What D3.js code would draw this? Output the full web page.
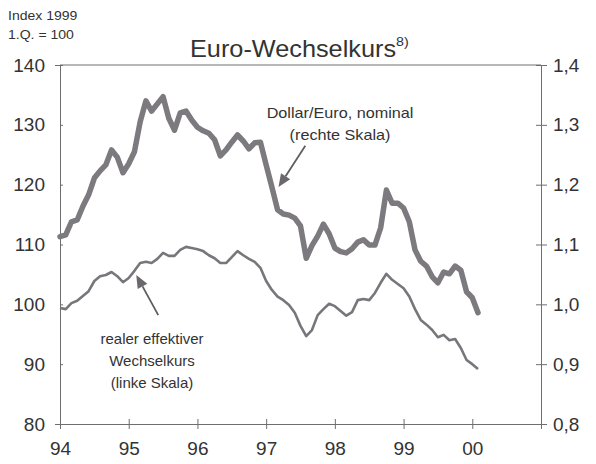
<!DOCTYPE html>
<html>
<head>
<meta charset="utf-8">
<script src="https://cdn.jsdelivr.net/npm/d3@7"></script>
<style>
  body { margin: 0; background: #fff; }
  text { font-family: "Liberation Sans", Arial, sans-serif; fill: #333; }
</style>
</head>
<body>
<div id="chart"></div>
<script>
//setup
var width = 596,
    height = 464;
var margin = {top: 65, right: 55, bottom: 40, left: 60};

// monthly values, Jan 1994 .. Feb 2000
var startYear = 1994;
var dollarEuro = [
    1.113, 1.116, 1.138, 1.141, 1.164, 1.183, 1.211, 1.223, 1.233, 1.258, 1.246, 1.220,
    1.235, 1.255, 1.305, 1.340, 1.323, 1.335, 1.347, 1.311, 1.291, 1.320, 1.323, 1.308,
    1.296, 1.290, 1.286, 1.275, 1.248, 1.258, 1.271, 1.283, 1.273, 1.260, 1.270, 1.271,
    1.233, 1.196, 1.158, 1.151, 1.149, 1.144, 1.131, 1.077, 1.098, 1.114, 1.134, 1.118,
    1.094, 1.088, 1.086, 1.093, 1.104, 1.108, 1.099, 1.099, 1.128, 1.191, 1.169, 1.169,
    1.161, 1.138, 1.091, 1.072, 1.064, 1.046, 1.036, 1.054, 1.051, 1.064, 1.057, 1.021,
    1.011, 0.986
];
var realEffective = [
    99.4, 99.2, 100.2, 100.6, 101.4, 102.2, 103.9, 104.7, 104.9, 105.4, 104.7, 103.7,
    104.4, 105.6, 106.9, 107.1, 106.9, 107.6, 108.6, 108.1, 108.1, 109.1, 109.6, 109.4,
    109.2, 108.9, 108.2, 107.7, 106.9, 106.9, 107.9, 108.9, 108.2, 107.6, 107.1, 106.1,
    103.9, 102.4, 101.3, 100.7, 99.9, 98.6, 96.4, 94.7, 95.7, 98.2, 99.2, 100.1,
    99.7, 98.9, 98.1, 98.7, 100.7, 100.9, 100.7, 101.9, 103.6, 105.1, 104.1, 103.4,
    102.7, 101.3, 99.2, 97.4, 96.6, 95.7, 94.5, 94.9, 94.0, 94.2, 92.7, 90.7,
    90.0, 89.2
];

var yearTicks = [1994, 1995, 1996, 1997, 1998, 1999, 2000, 2001];
var yearLabels = ["94", "95", "96", "97", "98", "99", "00", ""];
var leftTicks = [80, 90, 100, 110, 120, 130, 140];
var rightTicks = [0.8, 0.9, 1.0, 1.1, 1.2, 1.3, 1.4];

var innerW = width - margin.left - margin.right,
    innerH = height - margin.top - margin.bottom;

var xScale = d3.scaleLinear()
    .domain([1994, 2001])
    .range([0, innerW]);

var yLeft = d3.scaleLinear()
    .domain([80, 140])
    .range([innerH, 0]);

var yRight = d3.scaleLinear()
    .domain([0.8, 1.4])
    .range([innerH, 0]);

var svg = d3.select("#chart").append("svg")
    .attr("width", width)
    .attr("height", height);

var g = svg.append("g")
    .attr("transform", "translate(" + margin.left + "," + margin.top + ")");

// end of setup

var axisColor = "#6f6d70";

//top frame line
g.append("line")
    .attr("x1", 0).attr("x2", innerW)
    .attr("y1", 0).attr("y2", 0)
    .attr("stroke", axisColor);

//x axis
var xAxis = g.append("g")
    .attr("transform", "translate(0," + innerH + ")")
    .call(d3.axisBottom(xScale)
        .tickValues(yearTicks)
        .tickFormat(function (d, i) { return yearLabels[i]; })
        .tickSize(5)
        .tickPadding(13));
xAxis.selectAll(".tick line").attr("y1", -5).attr("stroke", axisColor);
xAxis.select(".domain").attr("stroke", axisColor);
xAxis.selectAll("text").style("font-size", "19px").attr("fill", "#333");

//left axis
var lAxis = g.append("g")
    .call(d3.axisLeft(yLeft)
        .tickValues(leftTicks)
        .tickSize(5)
        .tickPadding(10));
lAxis.selectAll(".tick line").attr("x2", 3).attr("stroke", axisColor);
lAxis.select(".domain").attr("stroke", axisColor);
lAxis.selectAll("text").style("font-size", "19px").attr("fill", "#333");

//right axis
var rAxis = g.append("g")
    .attr("transform", "translate(" + innerW + ",0)")
    .call(d3.axisRight(yRight)
        .tickValues(rightTicks)
        .tickFormat(function (d) { return d3.format(".1f")(d).replace(".", ","); })
        .tickSize(6)
        .tickPadding(6));
rAxis.selectAll(".tick line").attr("x1", -5).attr("stroke", axisColor);
rAxis.select(".domain").attr("stroke", axisColor);
rAxis.selectAll("text").style("font-size", "19px").attr("fill", "#333");

//lines
var monthX = function (d, i) { return xScale(startYear + i / 12); };

var lineReal = d3.line()
    .x(monthX)
    .y(function (d) { return yLeft(d); });

var lineNominal = d3.line()
    .x(monthX)
    .y(function (d) { return yRight(d); });

g.append("path")
    .datum(realEffective)
    .attr("d", lineReal)
    .attr("fill", "none")
    .attr("stroke", "#78757b")
    .attr("stroke-width", 2.6)
    .attr("stroke-linejoin", "round");

g.append("path")
    .datum(dollarEuro)
    .attr("d", lineNominal)
    .attr("fill", "none")
    .attr("stroke", "#7c797f")
    .attr("stroke-width", 5.5)
    .attr("stroke-linejoin", "round")
    .attr("stroke-linecap", "round");

//arrows
function arrow(x1, y1, x2, y2) {
    var ang = Math.atan2(y2 - y1, x2 - x1),
        len = 13, wid = 5.5;
    var bx = x2 - len * Math.cos(ang), by = y2 - len * Math.sin(ang);
    g.append("line")
        .attr("x1", x1).attr("y1", y1)
        .attr("x2", bx).attr("y2", by)
        .attr("stroke", "#5f5d62")
        .attr("stroke-width", 1.8);
    g.append("path")
        .attr("d", "M" + x2 + "," + y2 +
            "L" + (bx + wid * Math.sin(ang)) + "," + (by - wid * Math.cos(ang)) +
            "L" + (bx - wid * Math.sin(ang)) + "," + (by + wid * Math.cos(ang)) + "Z")
        .attr("fill", "#6a686d");
}
arrow(xScale(1997.57), yRight(1.265), xScale(1997.18), yRight(1.196));
arrow(xScale(1995.43), yLeft(98.2), xScale(1995.11), yLeft(104.9));

//annotation labels (scan is a bit wider than the font, so stretch x)
function label(lines, x, y0, step, sx) {
    var t = svg.append("text")
        .attr("transform", "translate(" + x + "," + y0 + ") scale(" + sx + ",1)")
        .attr("text-anchor", "middle")
        .style("font-size", "15px");
    lines.forEach(function (s, i) {
        t.append("tspan").attr("x", 0).attr("y", i * step).text(s);
    });
}
label(["Dollar/Euro, nominal", "(rechte Skala)"], 340, 118, 22, 1.08);
label(["realer effektiver", "Wechselkurs", "(linke Skala)"], 152, 344, 22, 1.0);

//title
var title = svg.append("text")
    .attr("transform", "translate(190,57) scale(1.1,1)")
    .style("font-size", "23px");
title.append("tspan").text("Euro-Wechselkurs");
title.append("tspan")
    .attr("dy", -11)
    .style("font-size", "13px")
    .text("8)");

//index note
svg.append("text")
    .attr("transform", "translate(8,20) scale(1.08,1)")
    .style("font-size", "13px")
    .text("Index 1999");
svg.append("text")
    .attr("transform", "translate(8,39) scale(1.08,1)")
    .style("font-size", "13px")
    .text("1.Q. = 100");
</script>
</body>
</html>
